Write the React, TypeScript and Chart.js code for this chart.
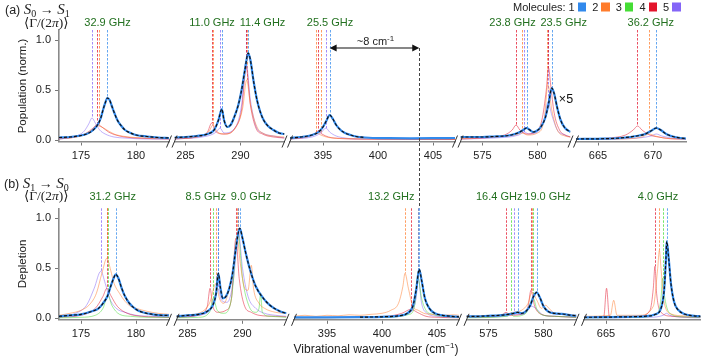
import React, { useEffect, useRef } from 'react';
import { Chart, registerables } from 'chart.js';
Chart.register(...registerables);

// ---------------- data ----------------
const moleculeNames = ['1', '2', '3', '4', '5'];
const moleculeColors = ['#3189ec', '#ff7c2c', '#45dd35', '#e3142c', '#8465f7'];

const topRanges = [[173, 183], [284, 294], [392, 407], [573, 583], [663, 673]];
const botRanges = [[173, 183], [284, 294], [392, 407], [573, 583], [663, 673.6]];
const xTicks = [[175, 180], [285, 290], [395, 400, 405], [575, 580], [665, 670]];
const yTicks = [0, 0.5, 1.0];

const topWidthLabels = ['32.9 GHz', '11.0 GHz', '11.4 GHz', '25.5 GHz', '23.8 GHz', '23.5 GHz', '36.2 GHz'];
const botWidthLabels = ['31.2 GHz', '8.5 GHz', '9.0 GHz', '13.2 GHz', '16.4 GHz', '19.0 GHz', '4.0 GHz'];
const arrowSpan = [395.6, 403.75];
const arrowLevel = 0.92;

// (a) S0 -> S1  — [x, y] points
const a1_m1 = [[173,.025],[174,.03],[175,.045],[175.5,.06],[176,.09],[176.5,.15],[176.8,.22],[177,.3],[177.2,.37],[177.4,.42],[177.6,.4],[177.8,.34],[178,.28],[178.3,.2],[178.6,.15],[179,.1],[179.5,.07],[180,.05],[181,.035],[182,.025],[183,.02]];
const a1_m2 = [[173,.015],[175,.04],[176,.1],[176.6,.14],[177.2,.11],[178,.06],[179,.035],[181,.02],[183,.015]];
const a1_m4 = [[173,.01],[174.5,.03],[175.5,.07],[176.1,.12],[176.45,.155],[176.9,.13],[177.5,.08],[178.5,.04],[180,.02],[183,.01]];
const a1_m5 = [[173,.01],[174,.025],[174.8,.05],[175.3,.09],[175.7,.16],[176,.22],[176.3,.17],[176.7,.1],[177.2,.06],[178,.03],[179,.02],[181,.01],[183,.01]];
const a1_lines = [[5,176.03,.22],[4,176.45,.155],[2,176.65,.14],[1,177.4,.42]];

const a2_m1 = [[284,.025],[285,.03],[286,.04],[287,.06],[287.6,.1],[288,.2],[288.3,.31],[288.5,.2],[288.8,.13],[289.1,.15],[289.4,.22],[289.8,.35],[290.1,.5],[290.4,.7],[290.7,.87],[290.9,.8],[291.2,.58],[291.5,.4],[291.8,.28],[292.1,.2],[292.5,.14],[293,.1],[293.5,.07],[294,.06]];
const a2_m2 = [[284,.015],[286,.03],[287.1,.08],[287.5,.15],[287.9,.08],[288.6,.06],[289.6,.13],[290.2,.32],[290.56,.6],[290.9,.36],[291.5,.13],[292.2,.06],[293,.04],[294,.03]];
const a2_m4 = [[284,.01],[286,.03],[287,.08],[287.38,.17],[287.7,.09],[288.5,.06],[289.5,.12],[290.1,.3],[290.52,.72],[290.9,.35],[291.4,.12],[292,.06],[293,.03],[294,.02]];
const a2_m5 = [[284,.01],[287,.04],[287.8,.08],[288.14,.12],[288.5,.07],[289.5,.12],[290.1,.35],[290.5,.78],[290.9,.4],[291.4,.14],[292,.07],[293,.04],[294,.02]];
const a2_lines = [[4,287.38,.17],[2,287.53,.15],[5,288.14,.12],[1,288.3,.31],[5,290.5,.78],[4,290.52,.72],[2,290.56,.6],[1,290.7,.87]];

const a3_m1 = [[392,.02],[393,.03],[394,.05],[394.6,.08],[395,.13],[395.3,.19],[395.6,.25],[395.9,.21],[396.2,.15],[396.6,.1],[397,.07],[397.5,.05],[398,.035],[398.8,.025],[399.5,.02],[401,.018],[403,.017],[405,.018],[407,.02]];
const a3_fit = [[392,.02],[393,.03],[394,.05],[394.6,.08],[395,.13],[395.3,.19],[395.6,.25],[395.9,.21],[396.2,.15],[396.6,.1],[397,.07],[397.5,.05],[398,.035],[398.8,.025]];
const a3_m2 = [[392,.015],[393.5,.03],[394.1,.05],[394.4,.075],[394.8,.05],[395.5,.025],[397,.015],[400,.008],[407,.006]];
const a3_m4 = [[392,.01],[393.5,.03],[394.2,.06],[394.57,.09],[394.9,.06],[395.5,.03],[396.5,.015],[398,.01],[407,.005]];
const a3_m5 = [[392,.01],[394,.03],[394.8,.07],[395.27,.12],[395.6,.08],[396.2,.04],[397,.02],[398,.01],[407,.005]];
const a3_lines = [[2,394.36,.075],[4,394.57,.09],[2,394.79,.065],[5,395.27,.12],[1,395.64,.25]];

const a4_m1 = [[573,.03],[574,.03],[575,.03],[576,.035],[577,.04],[577.6,.05],[578.2,.07],[578.7,.1],[579,.12],[579.3,.1],[579.6,.08],[579.9,.09],[580.3,.13],[580.7,.22],[581,.36],[581.3,.52],[581.5,.47],[581.8,.32],[582.1,.2],[582.5,.12],[583,.08]];
const a4_m2 = [[573,.015],[576,.03],[578,.05],[578.6,.07],[579.1,.05],[580,.07],[580.6,.2],[580.95,.55],[581.3,.3],[581.8,.1],[582.5,.04],[583,.03]];
const a4_m4 = [[573,.01],[575,.02],[577,.05],[577.7,.1],[578.05,.15],[578.4,.1],[579,.06],[579.8,.08],[580.4,.2],[580.8,.5],[581,.72],[581.2,.55],[581.5,.28],[582,.1],[582.5,.05],[583,.03]];
const a4_m5 = [[573,.01],[576,.02],[578.3,.05],[578.8,.08],[579.2,.06],[580,.08],[580.6,.2],[580.95,.38],[581.3,.25],[581.8,.1],[582.5,.05],[583,.03]];
const a4_lines = [[4,578.05,.15],[2,578.59,.07],[5,578.77,.08],[1,579.02,.12],[2,580.9,.55],[5,580.95,.38],[4,580.98,.72],[1,581.29,.52]];

const a5_m1 = [[663,.01],[665,.012],[667,.02],[668.5,.04],[669.3,.06],[669.8,.09],[670.3,.12],[670.7,.1],[671.2,.06],[671.8,.035],[672.5,.02],[673,.015]];
const a5_m2 = [[663,.005],[667,.01],[669,.03],[669.64,.06],[670.2,.04],[671,.02],[673,.01]];
const a5_m4 = [[663,.005],[666,.02],[667.5,.05],[668.2,.1],[668.6,.14],[669,.1],[669.7,.05],[670.5,.03],[672,.01],[673,.01]];
const a5_m5 = [[663,.005],[668,.015],[669.8,.04],[670.3,.06],[670.8,.04],[672,.015],[673,.01]];
const a5_lines = [[4,668.57,.14],[2,669.64,.07],[1,670.27,.12]];

// (b) S1 -> S0
const b1_m1 = [[173,.02],[174,.03],[175,.04],[176,.07],[176.6,.1],[177,.15],[177.4,.22],[177.7,.32],[178,.41],[178.15,.44],[178.4,.4],[178.7,.3],[179,.22],[179.4,.15],[180,.09],[180.6,.06],[181.5,.04],[182.5,.03],[183,.03]];
const b1_m2 = [[173,.03],[174,.05],[175,.08],[175.8,.14],[176.4,.25],[176.9,.45],[177.35,.6],[177.7,.48],[178,.35],[178.5,.25],[179,.17],[179.5,.12],[180,.1],[181,.07],[182,.05],[183,.04]];
const b1_m3 = [[173,.005],[175,.01],[176.3,.03],[177,.1],[177.45,.23],[177.8,.13],[178.5,.04],[179.5,.02],[181,.01],[183,.01]];
const b1_m4 = [[173,.01],[175,.03],[176.3,.1],[177,.22],[177.35,.3],[177.7,.23],[178.3,.12],[179.2,.05],[180.5,.02],[183,.01]];
const b1_m5 = [[173,.01],[174.5,.05],[175.5,.13],[176.2,.3],[176.8,.47],[177.2,.35],[177.6,.2],[178.2,.1],[179,.06],[180,.03],[181.5,.02],[183,.01]];
const b1_lines = [[5,176.82,.47],[4,177.33,.3],[2,177.39,.6],[3,177.48,.23],[1,178.15,.44]];

const b2_m1 = [[284,.02],[285,.03],[286,.04],[286.8,.07],[287.3,.13],[287.6,.25],[287.8,.45],[288,.3],[288.2,.2],[288.5,.22],[288.8,.3],[289.1,.45],[289.4,.7],[289.75,.9],[290,.8],[290.3,.65],[290.7,.48],[291.2,.32],[291.9,.2],[292.5,.13],[293.4,.07],[294,.05]];
const b2_m2 = [[284,.02],[286,.05],[287,.15],[287.6,.35],[287.9,.2],[288.3,.15],[288.8,.3],[289.2,.55],[289.5,.82],[289.8,.55],[290.2,.3],[290.5,.28],[290.8,.53],[291,.3],[291.5,.15],[292,.1],[293,.06],[294,.05]];
const b2_m3 = [[284,.005],[286,.01],[287,.06],[287.35,.2],[287.7,.08],[288.3,.05],[289,.2],[289.6,.85],[290,.4],[290.6,.12],[291.2,.06],[291.5,.1],[291.65,.25],[291.8,.06],[292.5,.02],[294,.01]];
const b2_m4 = [[284,.01],[286,.03],[286.8,.12],[287.05,.3],[287.3,.12],[287.8,.06],[288.5,.08],[289,.2],[289.4,.8],[289.7,.4],[290.2,.12],[290.8,.06],[291.5,.03],[293,.02],[294,.015]];
const b2_m5 = [[284,.01],[286,.03],[287.3,.12],[287.75,.3],[288.1,.18],[288.6,.16],[289.2,.4],[289.62,.87],[290,.5],[290.5,.22],[291.2,.1],[292,.05],[293,.03],[294,.02]];
const b2_lines = [[4,287.05,.3],[3,287.35,.2],[2,287.6,.35],[5,287.75,.3],[1,287.8,.45],[4,289.4,.8],[2,289.5,.82],[3,289.6,.85],[5,289.62,.87],[1,289.75,.9]];

const b3_m1 = [[392,.01],[395,.01],[398,.012],[400,.015],[401.5,.025],[402.3,.05],[402.8,.12],[403.1,.28],[403.38,.49],[403.6,.38],[403.9,.2],[404.3,.1],[404.8,.05],[405.5,.03],[406.3,.02],[407,.015]];
const b3_fit = [[398,.012],[400,.015],[401.5,.025],[402.3,.05],[402.8,.12],[403.1,.28],[403.38,.49],[403.6,.38],[403.9,.2],[404.3,.1],[404.8,.05],[405.5,.03],[406.3,.02],[407,.015]];
const b3_m2 = [[392,.02],[393,.03],[394,.02],[395,.03],[396,.025],[397,.035],[398,.03],[399,.04],[400,.05],[400.8,.08],[401.5,.15],[401.9,.32],[402.09,.45],[402.4,.3],[402.8,.12],[403.3,.08],[403.8,.05],[404.5,.04],[405.5,.03],[406.5,.035],[407,.03]];
const b3_m3 = [[392,.005],[400,.01],[402.5,.04],[403,.15],[403.25,.42],[403.6,.2],[404,.08],[404.6,.04],[405.5,.02],[407,.01]];
const b3_m4 = [[392,.005],[398,.01],[400.5,.02],[401.8,.05],[402.64,.09],[403.2,.06],[404,.02],[405,.01],[407,.005]];
const b3_m5 = [[392,.005],[401,.015],[402.6,.06],[403.1,.2],[403.3,.4],[403.6,.15],[404.1,.05],[405,.02],[407,.01]];
const b3_lines = [[2,402.09,.45],[4,402.64,.09],[3,403.25,.42],[5,403.3,.4],[1,403.38,.49]];

const b4_m1 = [[573,.02],[574,.02],[575,.025],[576,.03],[576.8,.04],[577.3,.05],[577.65,.06],[578,.05],[578.4,.07],[578.8,.13],[579.1,.22],[579.38,.26],[579.7,.2],[580,.12],[580.4,.07],[581,.05],[581.5,.045],[582,.04],[582.5,.03],[583,.025]];
const b4_m2 = [[573,.02],[575,.025],[576.5,.04],[577.3,.06],[578,.08],[578.6,.15],[578.95,.26],[579.4,.18],[579.8,.1],[580.2,.13],[580.5,.1],[581,.05],[582,.04],[583,.03]];
const b4_m3 = [[573,.005],[576.7,.02],[577.02,.04],[577.3,.02],[578.4,.05],[579.07,.2],[579.4,.09],[580,.03],[581,.02],[583,.01]];
const b4_m4 = [[573,.01],[575,.015],[576.2,.03],[576.59,.06],[577,.03],[578,.04],[578.6,.12],[578.86,.28],[579.2,.12],[579.8,.04],[581,.02],[583,.01]];
const b4_m5 = [[573,.01],[576.5,.02],[577.35,.04],[578.2,.04],[578.9,.12],[579.3,.1],[580,.03],[581,.02],[583,.01]];
const b4_lines = [[4,576.59,.06],[3,577.02,.04],[5,577.35,.04],[1,577.65,.06],[4,578.86,.28],[2,578.95,.26],[3,579.07,.2],[1,579.38,.26]];

const b5_m1 = [[663,.01],[665,.012],[667,.015],[668.5,.02],[669.5,.04],[670,.1],[670.3,.3],[670.45,.6],[670.52,.77],[670.7,.6],[670.9,.35],[671.2,.16],[671.6,.08],[672.2,.04],[673,.025],[673.6,.02]];
const b5_m2 = [[663,.02],[665.4,.03],[665.7,.18],[666,.03],[668,.03],[669.3,.12],[669.7,.5],[669.85,.68],[670,.5],[670.3,.15],[671,.04],[672,.025],[673.6,.02]];
const b5_m3 = [[663,.005],[668,.01],[669.7,.05],[670,.2],[670.15,.4],[670.35,.2],[670.8,.05],[672,.015],[673.6,.01]];
const b5_m4 = [[663,.01],[664.8,.02],[665.05,.3],[665.3,.02],[666,.015],[668,.02],[669,.08],[669.3,.3],[669.45,.52],[669.6,.25],[670,.06],[671,.02],[673.6,.01]];
const b5_m5 = [[663,.005],[669,.01],[670.2,.03],[670.5,.05],[670.8,.03],[672,.01],[673.6,.005]];
const b5_lines = [[4,669.45,.52],[2,669.85,.68],[3,670.15,.4],[1,670.52,.77]];

// ---------------- layout (pixels) ----------------
const W = 701, H = 360;
const TOP_ROW = { top: 30, bottom: 141.5 };
const BOT_ROW = { top: 208.3, bottom: 319.8 };
const topPx = [[59, 169], [174.5, 284.5], [290, 455], [460.5, 570.5], [576, 686]];
const botPx = [[59, 169], [176.5, 286.5], [294, 459], [466.5, 576.5], [584, 700.6]];
const topLabelPx = [107.5, 212, 262.5, 330, 512.5, 563.7, 650.8];
const botLabelPx = [112.7, 205.8, 251, 391.3, 499.2, 547.5, 658];

const sans = '"Liberation Sans", Arial, Helvetica, sans-serif';
const serif = '"Liberation Serif", "DejaVu Serif", serif';
Chart.defaults.font.family = sans;

function rgba(hex: string, a: number) {
  const n = parseInt(hex.slice(1), 16);
  return `rgba(${(n >> 16) & 255},${(n >> 8) & 255},${n & 255},${a})`;
}

type Pts = number[][];
type Spec = {
  range: number[]; ticks: number[]; px: number[]; row: { top: number; bottom: number };
  m1: Pts; fit: Pts; faint: [number, Pts][]; lines: number[][];
  first: boolean; last: boolean; arrow?: boolean;
};

const topCurves: [Pts, Pts, [number, Pts][], number[][]][] = [
  [a1_m1, a1_m1, [[2, a1_m2], [4, a1_m4], [5, a1_m5]], a1_lines],
  [a2_m1, a2_m1, [[2, a2_m2], [4, a2_m4], [5, a2_m5]], a2_lines],
  [a3_m1, a3_fit, [[2, a3_m2], [4, a3_m4], [5, a3_m5]], a3_lines],
  [a4_m1, a4_m1, [[2, a4_m2], [4, a4_m4], [5, a4_m5]], a4_lines],
  [a5_m1, a5_m1, [[2, a5_m2], [4, a5_m4], [5, a5_m5]], a5_lines],
];
const botCurves: [Pts, Pts, [number, Pts][], number[][]][] = [
  [b1_m1, b1_m1, [[2, b1_m2], [3, b1_m3], [4, b1_m4], [5, b1_m5]], b1_lines],
  [b2_m1, b2_m1, [[2, b2_m2], [3, b2_m3], [4, b2_m4], [5, b2_m5]], b2_lines],
  [b3_m1, b3_fit, [[2, b3_m2], [3, b3_m3], [4, b3_m4], [5, b3_m5]], b3_lines],
  [b4_m1, b4_m1, [[2, b4_m2], [3, b4_m3], [4, b4_m4], [5, b4_m5]], b4_lines],
  [b5_m1, b5_m1, [[2, b5_m2], [3, b5_m3], [4, b5_m4], [5, b5_m5]], b5_lines],
];

const specs: Spec[] = [];
topCurves.forEach(([m1, fit, faint, lines], i) => specs.push({ range: topRanges[i], ticks: xTicks[i], px: topPx[i], row: TOP_ROW, m1, fit, faint, lines, first: i === 0, last: i === 4, arrow: i === 2 }));
botCurves.forEach(([m1, fit, faint, lines], i) => specs.push({ range: botRanges[i], ticks: xTicks[i], px: botPx[i], row: BOT_ROW, m1, fit, faint, lines, first: i === 0, last: i === 4 }));

const toXY = (p: Pts) => p.map(([x, y]) => ({ x, y }));

function makeConfig(s: Spec): any {
  const [L, R] = s.px;
  const yw = s.first ? 40 : 0;
  const xh = 30;
  const deco = {
    id: 'deco',
    beforeDatasetsDraw(chart: any) {
      const { ctx, chartArea } = chart;
      const xs = chart.scales.x, ys = chart.scales.y;
      ctx.save();
      ctx.lineWidth = 1;
      ctx.setLineDash([2.5, 1.5]);
      for (const [m, x, h] of s.lines) {
        const px = Math.round(xs.getPixelForValue(x)) + 0.5;
        ctx.strokeStyle = rgba(moleculeColors[m - 1], 0.75);
        ctx.beginPath();
        ctx.moveTo(px, chartArea.top);
        ctx.lineTo(px, ys.getPixelForValue(h));
        ctx.stroke();
      }
      ctx.restore();
    },
    afterDraw(chart: any) {
      const { ctx, chartArea } = chart;
      const xs = chart.scales.x, ys = chart.scales.y;
      ctx.save();
      ctx.strokeStyle = '#333';
      ctx.lineWidth = 1;
      const yb = chartArea.bottom;
      const slash = (x: number) => { ctx.beginPath(); ctx.moveTo(x - 2.5, yb + 6); ctx.lineTo(x + 2.5, yb - 6); ctx.stroke(); };
      if (!s.first) slash(chartArea.left);
      if (!s.last) slash(chartArea.right);
      if (s.arrow) {
        const xa = xs.getPixelForValue(arrowSpan[0]);
        const xb = xs.getPixelForValue(arrowSpan[1]);
        const ya = ys.getPixelForValue(arrowLevel);
        ctx.strokeStyle = '#111';
        ctx.fillStyle = '#111';
        ctx.lineWidth = 1.2;
        ctx.beginPath(); ctx.moveTo(xa + 5, ya); ctx.lineTo(xb - 5, ya); ctx.stroke();
        const head = (x: number, dir: number) => { ctx.beginPath(); ctx.moveTo(x, ya); ctx.lineTo(x - dir * 7, ya - 3.5); ctx.lineTo(x - dir * 7, ya + 3.5); ctx.closePath(); ctx.fill(); };
        head(xa, -1); head(xb, 1);
        ctx.setLineDash([3, 2]);
        ctx.strokeStyle = '#444';
        ctx.lineWidth = 1;
        const xl = Math.round(xb) + 0.5;
        ctx.beginPath(); ctx.moveTo(xl, ya); ctx.lineTo(xl, BOT_ROW.top); ctx.stroke();
      }
      ctx.restore();
    },
  };
  const datasets: any[] = [
    { data: toXY(s.fit), borderColor: '#111', borderWidth: 1.2, borderDash: [3, 2] },
    { data: toXY(s.m1), borderColor: moleculeColors[0], borderWidth: 2.2 },
    ...s.faint.map(([m, p]) => ({ data: toXY(p), borderColor: rgba(moleculeColors[m - 1], 0.5), borderWidth: 1 })),
  ].map((d) => ({ ...d, pointRadius: 0, fill: false, cubicInterpolationMode: 'monotone' }));
  const axisCommon = {
    grid: { display: true, drawOnChartArea: false, drawTicks: true, tickLength: 4, tickColor: '#777', tickWidth: 1 },
    border: { display: true, color: '#8a8a8a', width: 1.6 },
  };
  return {
    type: 'line',
    data: { datasets },
    options: {
      animation: false, responsive: false, events: [],
      layout: { padding: { left: L - yw, right: W - R, top: s.row.top, bottom: H - s.row.bottom - xh } },
      plugins: { legend: { display: false }, tooltip: { enabled: false } },
      scales: {
        x: {
          type: 'linear', min: s.range[0], max: s.range[1], ...axisCommon,
          afterBuildTicks: (sc: any) => { sc.ticks = s.ticks.map((v) => ({ value: v })); },
          afterFit: (sc: any) => { sc.height = xh; },
          ticks: { color: '#222', font: { size: 11 }, padding: 4, maxRotation: 0, autoSkip: false, callback: (v: any) => String(v) },
        },
        y: {
          type: 'linear', min: -0.015, max: 1.1, display: s.first, ...axisCommon,
          afterBuildTicks: (sc: any) => { sc.ticks = yTicks.map((v) => ({ value: v })); },
          afterFit: (sc: any) => { sc.width = yw; },
          ticks: { color: '#222', font: { size: 11 }, padding: 4, callback: (v: any) => Number(v).toFixed(1) },
        },
      },
    },
    plugins: [deco],
  };
}

function SegChart({ spec }: { spec: Spec }) {
  const ref = useRef<HTMLCanvasElement>(null);
  useEffect(() => {
    const chart = new Chart(ref.current as HTMLCanvasElement, makeConfig(spec));
    return () => chart.destroy();
  }, [spec]);
  return <canvas ref={ref} width={W} height={H} style={{ position: 'absolute', left: 0, top: 0, width: W, height: H }} />;
}

function Txt({ x, y, children, size = 11, color = '#222', anchor = 'middle', font = sans, rotate = 0 }: any) {
  const tx = anchor === 'middle' ? '-50%' : anchor === 'end' ? '-100%' : '0';
  return (
    <div style={{ position: 'absolute', left: x, top: y, transform: `translate(${tx},-50%)${rotate ? ` rotate(${rotate}deg)` : ''}`, whiteSpace: 'nowrap', fontSize: size, fontFamily: font, color, lineHeight: 1 }}>
      {children}
    </div>
  );
}

const S = ({ sub }: { sub: string }) => (
  <span style={{ fontFamily: serif, fontStyle: 'italic', fontSize: 15 }}>S<sub style={{ fontStyle: 'normal', fontSize: 10, verticalAlign: '-3px' }}>{sub}</sub></span>
);
const Gamma = () => (
  <span style={{ fontFamily: serif, fontSize: 13.5 }}>⟨Γ/(2<i>π</i>)⟩</span>
);

export default function App() {
  const green = '#22701f';
  return (
    <div style={{ position: 'absolute', left: 0, top: 0, width: W, height: H, background: '#fff', overflow: 'hidden' }}>
      {specs.map((s, i) => <SegChart key={i} spec={s} />)}
      {/* titles */}
      <Txt x={5} y={10} anchor="start" size={12.5}>(a) <S sub="0" /> <span style={{ fontSize: 14 }}>→</span> <S sub="1" /></Txt>
      <Txt x={24} y={23} anchor="start"><Gamma /></Txt>
      <Txt x={4} y={184} anchor="start" size={12.5}>(b) <S sub="1" /> <span style={{ fontSize: 14 }}>→</span> <S sub="0" /></Txt>
      <Txt x={24} y={196} anchor="start"><Gamma /></Txt>
      {/* axis titles */}
      <Txt x={22.5} y={86} rotate={-90} size={11.5}>Population (norm.)</Txt>
      <Txt x={22.5} y={264} rotate={-90} size={11.5}>Depletion</Txt>
      <Txt x={376} y={348} size={12}>Vibrational wavenumber (cm<sup style={{ fontSize: 8 }}>−1</sup>)</Txt>
      {/* width labels */}
      {topWidthLabels.map((t, i) => <Txt key={'t' + i} x={topLabelPx[i]} y={21.5} color={green} size={11}>{t}</Txt>)}
      {botWidthLabels.map((t, i) => <Txt key={'b' + i} x={botLabelPx[i]} y={196} color={green} size={11}>{t}</Txt>)}
      <Txt x={375.5} y={41} size={11}>~8 cm<sup style={{ fontSize: 8 }}>-1</sup></Txt>
      <Txt x={566} y={99} size={12.5} color="#111">×5</Txt>
      {/* legend */}
      <div style={{ position: 'absolute', left: 513, top: 7, transform: 'translateY(-50%)', fontFamily: sans, fontSize: 11, color: '#222', whiteSpace: 'nowrap', lineHeight: 1, display: 'flex', alignItems: 'center' }}>
        <span>Molecules:</span>
        {moleculeNames.map((n, i) => (
          <React.Fragment key={n}>
            <span style={{ marginLeft: i === 0 ? 3 : 6 }}>{n}</span>
            <span style={{ display: 'inline-block', width: 8.5, height: 8.5, background: moleculeColors[i], marginLeft: 3 }} />
          </React.Fragment>
        ))}
      </div>
    </div>
  );
}
